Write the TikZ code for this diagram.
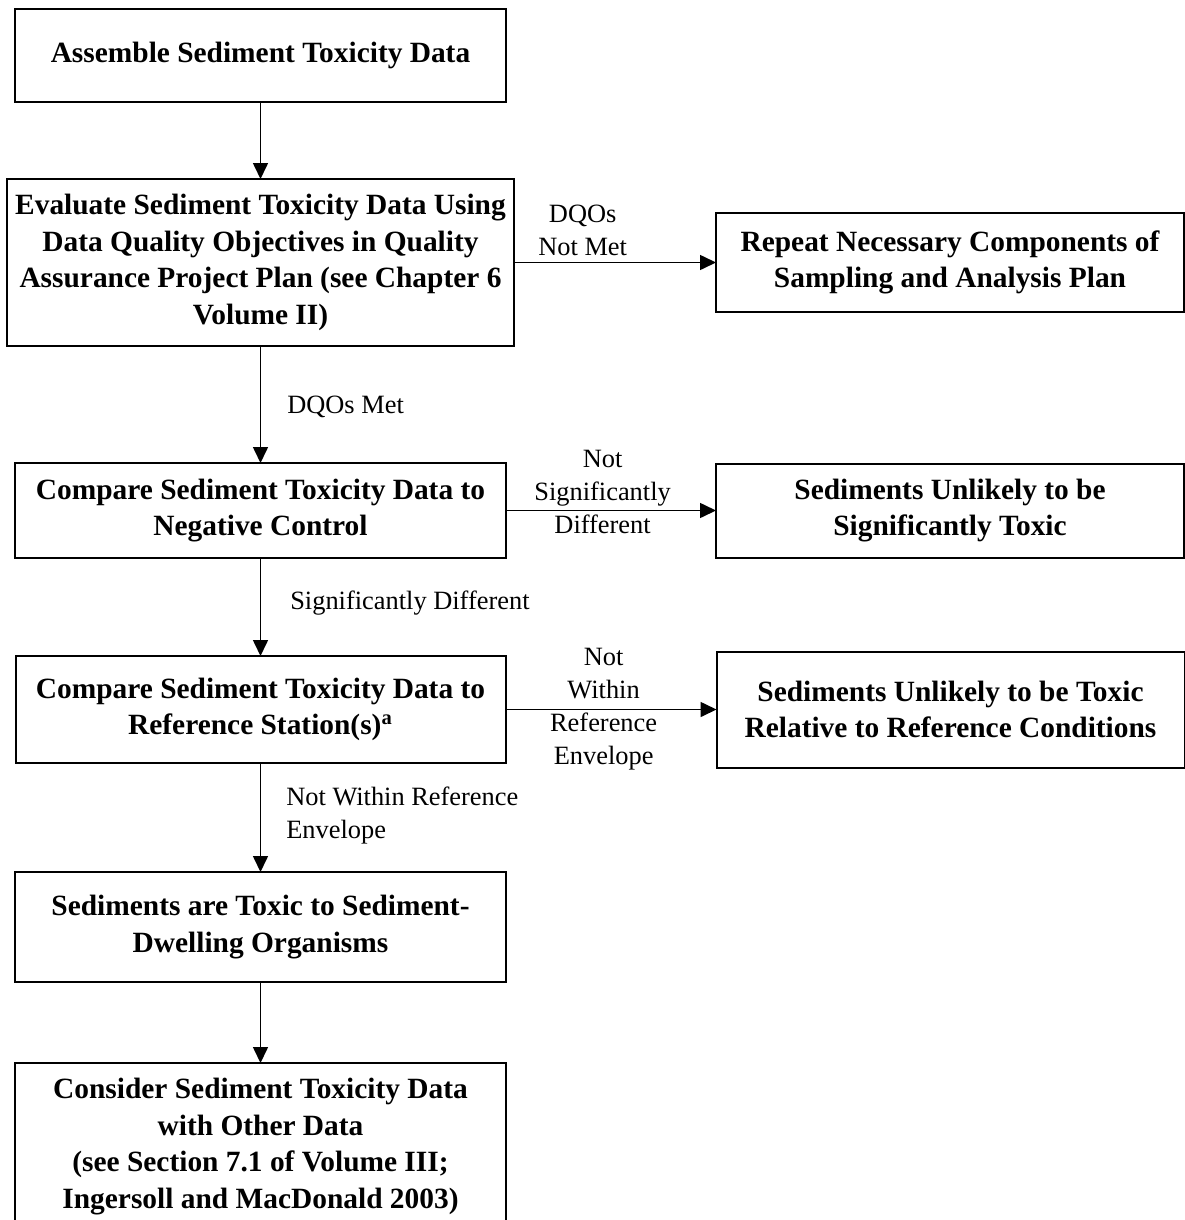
\documentclass[tikz,border=0pt]{standalone}
\usepackage{fontspec}
\setmainfont{Liberation Serif}
\usetikzlibrary{positioning,arrows.meta}

\begin{document}
\begin{tikzpicture}[x=0.5pt, y=-0.5pt, line width=1pt,
  main/.style = {draw, rectangle, align=center, inner sep=0pt, outer sep=0pt, font=\fontsize{14.7}{18.3}\selectfont\bfseries},
  lbl/.style = {align=center, inner sep=0pt, font=\fontsize{13.2}{16.5}\selectfont},
  flow/.style = {line width=0.8pt, -{Triangle[length=8pt, width=7.5pt]}}]
\useasboundingbox (0,0) rectangle (1184,1220);
\node[main, minimum width=245.5pt, minimum height=46.5pt] (0) at (260.5,55.5) {Assemble Sediment Toxicity Data};
\node[main, minimum width=253.5pt, minimum height=83.5pt] (1) [below=38.5pt of 0] {Evaluate Sediment Toxicity Data Using\\Data Quality Objectives in Quality\\Assurance Project Plan (see Chapter 6\\Volume II)};
\node[main, minimum width=234pt, minimum height=49.5pt] (2) [right=101pt of 1] {Repeat Necessary Components of\\Sampling and Analysis Plan};
\node[main, minimum width=245.5pt, minimum height=47.5pt] (3) [below=58.5pt of 1] {Compare Sediment Toxicity Data to\\Negative Control};
\node[main, minimum width=234pt, minimum height=47pt] (4) [right=105pt of 3] {Sediments Unlikely to be\\Significantly Toxic};
\node[main, minimum width=245pt, minimum height=53.5pt] (5) [below=49pt of 3] {Compare Sediment Toxicity Data to\\Reference Station(s)\textsuperscript{a}};
\node[main, minimum width=234pt, minimum height=58pt] (6) [right=105.5pt of 5] {Sediments Unlikely to be Toxic\\Relative to Reference Conditions};
\node[main, minimum width=245.5pt, minimum height=55pt] (7) [below=54.5pt of 5] {Sediments are Toxic to Sediment-\\Dwelling Organisms};
\node[main, minimum width=245.5pt, minimum height=83.5pt] (8) [below=40.5pt of 7] {Consider Sediment Toxicity Data\\with Other Data\\(see Section 7.1 of Volume III;\\Ingersoll and MacDonald 2003)};
\draw[flow] (0) -- (1);
\draw[flow] (1) -- node[lbl, above=3pt, pos=0.34] (l1) {DQOs\\Not Met} (2);
\draw[flow] (1) -- node[lbl, right=13pt, pos=0.52] (l2) {DQOs Met} (3);
\draw[flow] (3) -- node[lbl, pos=0.46, yshift=9.5pt] (l3) {Not\\Significantly\\Different} (4);
\draw[flow] (3) -- node[lbl, right=14.5pt, pos=0.46] (l4) {Significantly Different} (5);
\draw[flow] (5) -- node[lbl, pos=0.465] (l5) {Not\\Within\\Reference\\Envelope} (6);
\draw[flow] (5) -- node[lbl, align=left, right=12.5pt, pos=0.48] (l6) {Not Within Reference\\Envelope} (7);
\draw[flow] (7) -- (8);
\end{tikzpicture}
\end{document}
